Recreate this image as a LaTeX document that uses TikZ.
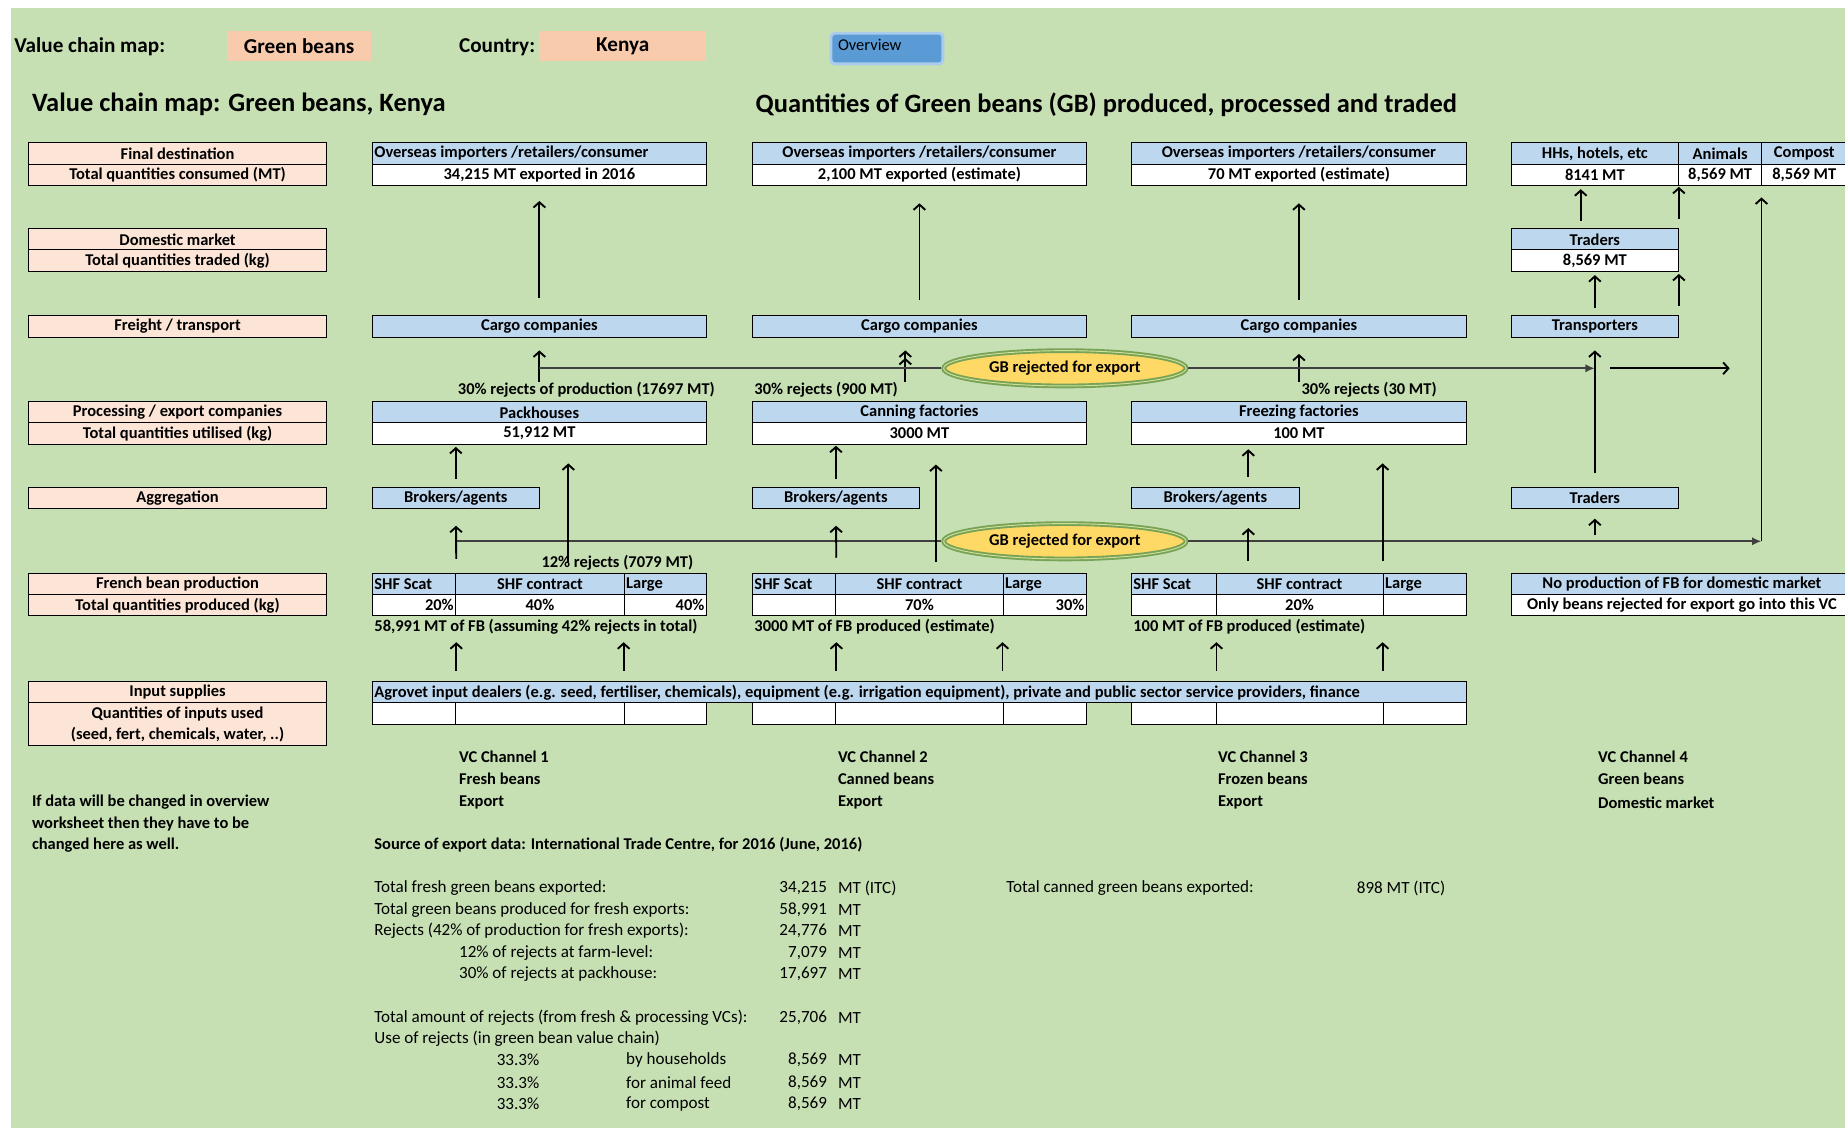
\documentclass[tikz,border=0pt]{standalone}
\usepackage{fontspec}
\setmainfont{Carlito}
\usetikzlibrary{shapes.geometric,arrows.meta,calc}
\definecolor{bggreen}{HTML}{C6E0B4}
\definecolor{peach}{HTML}{FCE4D6}
\definecolor{peachdk}{HTML}{F8CBAD}
\definecolor{cellblue}{HTML}{BDD7EE}
\definecolor{btnblue}{HTML}{5B9BD5}
\definecolor{btnrim}{HTML}{A9CCEC}
\definecolor{ellfill}{HTML}{FFD966}
\definecolor{ellrim}{HTML}{78A357}
\definecolor{ellin}{HTML}{CFE09A}
\definecolor{rejgray}{HTML}{404040}
\newcommand{\cellfont}{\fontsize{14}{16}\selectfont}
\newcommand{\plainfont}{\fontsize{14.5}{16}\selectfont}
\tikzset{
  box/.style={draw, line width=0.8pt, anchor=north west, minimum height=18pt, inner sep=0pt, font=\cellfont\bfseries},
  lab/.style={box, fill=peach, minimum width=253pt},
  bcell/.style={box, fill=cellblue},
  wcell/.style={box, fill=white},
  txt/.style={anchor=west, inner sep=0pt, font=\cellfont\bfseries},
  plain/.style={anchor=west, inner sep=0pt, font=\plainfont},
  num/.style={anchor=east, inner sep=0pt, font=\plainfont},
}

\begin{document}
\begin{tikzpicture}[
    x=1pt, y=-1pt,
    arr/.style={line width=1.6pt, -{Straight Barb[length=4.5pt,width=10pt]}},
    arrtwo/.style={line width=1.6pt, -{Straight Barb[length=4.5pt,width=10pt] Straight Barb[length=4.5pt,width=10pt]}},
    rej/.style={draw=rejgray, line width=1.7pt},
    rejend/.style={rej, -{Latex[length=8pt,width=7pt]}},
    ell/.style={ellipse, draw=ellrim, line width=4pt, fill=ellfill, minimum width=206pt, minimum height=30pt, inner sep=0pt, font=\cellfont\bfseries, postaction={draw=ellin, line width=0.8pt}},
    ]
    \useasboundingbox (0,0) rectangle (1568,959);
    \fill[white] (0,0) rectangle (1568,959);
    \fill[bggreen] (9,7) rectangle (1568,959);

    % header
    \node[anchor=west, inner sep=0pt, font=\fontsize{18}{20}\selectfont\bfseries] (hdr) at (12,40) {Value chain map:};
    \node[anchor=north west, fill=peachdk, minimum width=122pt, minimum height=26pt, inner sep=0pt, font=\fontsize{18}{20}\selectfont\bfseries] (hdrgb) at (193,26) {Green beans};
    \node[anchor=west, inner sep=0pt, font=\fontsize{18}{20}\selectfont\bfseries] (hdrcty) at (390,40) {Country:};
    \node[anchor=north west, fill=peachdk, minimum width=142pt, minimum height=26pt, inner sep=0pt, font=\fontsize{18}{20}\selectfont\bfseries] (hdrkenya) at (458,26) {Kenya};
    \node[anchor=north west, fill=btnblue, draw=btnrim, line width=2.5pt, rounded corners=3pt, minimum width=95pt, minimum height=26pt] (ovbtn) at (705,27) {};
    \node[anchor=west, inner sep=0pt, font=\fontsize{14}{16}\selectfont] (ovtxt) at (712,38) {Overview};
    \node[anchor=west, inner sep=0pt, font=\fontsize{22.5}{26}\selectfont\bfseries] (ttlmap) at (27,89) {Value chain map: Green beans, Kenya};
    \node[anchor=west, inner sep=0pt, font=\fontsize{22.5}{26}\selectfont\bfseries] (ttlqty) at (642,89) {Quantities of Green beans (GB) produced, processed and traded};

    % stage labels
    \node[lab] (lfd) at (24,121) {Final destination};
    \node[lab] (lfdq) at (24,139) {Total quantities consumed (MT)};
    \node[lab] (ldm) at (24,194) {Domestic market};
    \node[lab] (ldmq) at (24,212) {Total quantities traded (kg)};
    \node[lab] (lfr) at (24,268) {Freight / transport};
    \node[lab] (lpr) at (24,341) {Processing / export companies};
    \node[lab] (lprq) at (24,359) {Total quantities utilised (kg)};
    \node[lab] (lag) at (24,414) {Aggregation};
    \node[lab] (lfb) at (24,487) {French bean production};
    \node[lab] (lfbq) at (24,505) {Total quantities produced (kg)};
    \node[lab] (lin) at (24,579) {Input supplies};
    \node[lab, minimum height=36pt, align=center, font=\fontsize{14}{18}\selectfont\bfseries] (linq) at (24,597) {Quantities of inputs used\\(seed, fert, chemicals, water, ..)};

    % channel 1
    \node[bcell, minimum width=284pt] (imp1) at (316,121) {};
    \node[txt, xshift=2pt] (imp1t) at (imp1.west) {Overseas importers /retailers/consumer};
    \node[wcell, minimum width=284pt] (imp1q) at (316,139) {34,215 MT exported in 2016};
    \node[bcell, minimum width=284pt] (cargo1) at (316,268) {Cargo companies};
    \node[bcell, minimum width=284pt] (pack1) at (316,341) {Packhouses};
    \node[wcell, minimum width=284pt] (pack1q) at (316,359) {51,912 MT};
    \node[bcell, minimum width=142pt] (brok1) at (316,414) {Brokers/agents};
    \node[bcell, minimum width=71pt] (scat1) at (316,487) {};
    \node[bcell, minimum width=143pt] (cont1) at (387,487) {SHF contract};
    \node[bcell, minimum width=70pt] (large1) at (530,487) {};
    \node[wcell, minimum width=71pt] (scat1q) at (316,505) {};
    \node[wcell, minimum width=143pt] (cont1q) at (387,505) {40\%};
    \node[wcell, minimum width=70pt] (large1q) at (530,505) {};
    \node[txt, xshift=2pt] (scat1t) at (scat1.west) {SHF Scat};
    \node[txt, xshift=2pt] (large1t) at (large1.west) {Large};
    \node[txt, anchor=east, xshift=-2pt] (scat1v) at (scat1q.east) {20\%};
    \node[txt, anchor=east, xshift=-2pt] (large1v) at (large1q.east) {40\%};
    \node[wcell, minimum width=71pt] (in1a) at (316,597) {};
    \node[wcell, minimum width=143pt] (in1b) at (387,597) {};
    \node[wcell, minimum width=70pt] (in1c) at (530,597) {};

    % channel 2
    \node[bcell, minimum width=284pt] (imp2) at (639,121) {Overseas importers /retailers/consumer};
    \node[wcell, minimum width=284pt] (imp2q) at (639,139) {2,100 MT exported (estimate)};
    \node[bcell, minimum width=284pt] (cargo2) at (639,268) {Cargo companies};
    \node[bcell, minimum width=284pt] (can2) at (639,341) {Canning factories};
    \node[wcell, minimum width=284pt] (can2q) at (639,359) {3000 MT};
    \node[bcell, minimum width=142pt] (brok2) at (639,414) {Brokers/agents};
    \node[bcell, minimum width=71pt] (scat2) at (639,487) {};
    \node[bcell, minimum width=142pt] (cont2) at (710,487) {SHF contract};
    \node[bcell, minimum width=71pt] (large2) at (852,487) {};
    \node[wcell, minimum width=71pt] (scat2q) at (639,505) {};
    \node[wcell, minimum width=142pt] (cont2q) at (710,505) {70\%};
    \node[wcell, minimum width=71pt] (large2q) at (852,505) {};
    \node[txt, xshift=2pt] (scat2t) at (scat2.west) {SHF Scat};
    \node[txt, xshift=2pt] (large2t) at (large2.west) {Large};
    \node[txt, anchor=east, xshift=-2pt] (large2v) at (large2q.east) {30\%};
    \node[wcell, minimum width=71pt] (in2a) at (639,597) {};
    \node[wcell, minimum width=142pt] (in2b) at (710,597) {};
    \node[wcell, minimum width=71pt] (in2c) at (852,597) {};

    % channel 3
    \node[bcell, minimum width=285pt] (imp3) at (961,121) {Overseas importers /retailers/consumer};
    \node[wcell, minimum width=285pt] (imp3q) at (961,139) {70 MT exported (estimate)};
    \node[bcell, minimum width=285pt] (cargo3) at (961,268) {Cargo companies};
    \node[bcell, minimum width=285pt] (frz3) at (961,341) {Freezing factories};
    \node[wcell, minimum width=285pt] (frz3q) at (961,359) {100 MT};
    \node[bcell, minimum width=143pt] (brok3) at (961,414) {Brokers/agents};
    \node[bcell, minimum width=72pt] (scat3) at (961,487) {};
    \node[bcell, minimum width=142pt] (cont3) at (1033,487) {SHF contract};
    \node[bcell, minimum width=71pt] (large3) at (1175,487) {};
    \node[wcell, minimum width=72pt] (scat3q) at (961,505) {};
    \node[wcell, minimum width=142pt] (cont3q) at (1033,505) {20\%};
    \node[wcell, minimum width=71pt] (large3q) at (1175,505) {};
    \node[txt, xshift=2pt] (scat3t) at (scat3.west) {SHF Scat};
    \node[txt, xshift=2pt] (large3t) at (large3.west) {Large};
    \node[wcell, minimum width=72pt] (in3a) at (961,597) {};
    \node[wcell, minimum width=142pt] (in3b) at (1033,597) {};
    \node[wcell, minimum width=71pt] (in3c) at (1175,597) {};

    % input supplies row
    \node[bcell, minimum width=930pt] (agro) at (316,579) {};
    \node[txt, xshift=2pt] (agrot) at (agro.west) {Agrovet input dealers (e.g. seed, fertiliser, chemicals), equipment (e.g. irrigation equipment), private and public sector service providers, finance};

    % channel 4
    \node[bcell, minimum width=142pt] (hhs) at (1284,121) {HHs, hotels, etc};
    \node[bcell, minimum width=71pt] (anim) at (1426,121) {Animals};
    \node[bcell, minimum width=72pt] (comp) at (1497,121) {Compost};
    \node[wcell, minimum width=142pt] (hhsq) at (1284,139) {8141 MT};
    \node[wcell, minimum width=71pt] (animq) at (1426,139) {8,569 MT};
    \node[wcell, minimum width=72pt] (compq) at (1497,139) {8,569 MT};
    \node[bcell, minimum width=142pt] (trad4) at (1284,194) {Traders};
    \node[wcell, minimum width=142pt] (trad4q) at (1284,212) {8,569 MT};
    \node[bcell, minimum width=142pt] (trans4) at (1284,268) {Transporters};
    \node[bcell, minimum width=142pt] (trad4b) at (1284,414) {Traders};
    \node[bcell, minimum width=290pt] (noprod4) at (1284,487) {No production of FB for domestic market};
    \node[wcell, minimum width=290pt] (noprod4q) at (1284,505) {Only beans rejected for export go into this VC};

    % rejects
    \node[ell] (rej1) at (905,313) {GB rejected for export};
    \node[ell] (rej2) at (905,460) {GB rejected for export};
    \node[txt] (r30a) at (389,331) {30\% rejects of production (17697 MT)};
    \node[txt] (r30b) at (641,331) {30\% rejects (900 MT)};
    \node[txt] (r30c) at (1106,331) {30\% rejects (30 MT)};
    \node[txt] (r12) at (460,478) {12\% rejects (7079 MT)};
    \node[txt] (fb1) at (318,533) {58,991 MT of FB (assuming 42\% rejects in total)};
    \node[txt] (fb2) at (641,533) {3000 MT of FB produced (estimate)};
    \node[txt] (fb3) at (963,533) {100 MT of FB produced (estimate)};
    \coordinate (out4) at (1470,313);

    % flows up to export
    \draw[arr, shorten <=15pt, shorten >=13pt] (cargo1) -- (imp1q);
    \draw[arr, shorten <=16pt, shorten >=11pt] (pack1) -- (cargo1);
    \draw[arr, shorten <=13pt, shorten >=15pt] (cargo2) -- (imp2q);
    \draw[arrtwo, shorten <=16pt, shorten >=11pt] ([xshift=-12pt]can2.north) -- ([xshift=-12pt]cargo2.south);
    \draw[arr, shorten <=13pt, shorten >=15pt] (cargo3) -- (imp3q);
    \draw[arr, shorten <=16pt, shorten >=14pt] (frz3) -- (cargo3);

    % rejects lines
    \draw[rej] (pack1.north |- rej1) -- (rej1);
    \draw[rejend] (rej1) -- (trans4 |- rej1);
    \draw[arr] ($(trans4 |- rej1)+(13,0)$) -- (out4);
    \draw[rej] (scat1.north east |- rej2) -- (rej2);
    \draw[rejend] (rej2) -- (compq.south west |- rej2);
    \draw[arr, shorten >=10pt] (compq.south west |- rej2) -- (compq.south west);

    % channel 4 flows
    \draw[arr, shorten <=12pt, shorten >=11pt] (trad4b) -- (trans4);
    \draw[arr, shorten <=6pt, shorten >=3pt] (trans4) -- (trad4q);
    \draw[arr, shorten <=8pt, shorten >=2pt] (trans4.north east) -- (trad4q.south east);
    \draw[arr, shorten <=6pt, shorten >=3pt] ([xshift=-12pt]trad4.north) -- ([xshift=-12pt]hhsq.south);
    \draw[arr, shorten <=8pt, shorten >=1pt] (trad4.north east) -- (hhsq.south east);
    \draw[arr, shorten <=5pt, shorten >=8pt] (trad4b |- rej2) -- (trad4b);

    % production to aggregation / processing
    \draw[arr, shorten <=12pt, shorten >=14pt] (scat1.north east) -- (brok1);
    \draw[arr, shorten <=7pt, shorten >=2pt] (brok1) -- (brok1 |- pack1q.south);
    \draw[arr, shorten >=16pt] ($(r12.west)+(23,0)$) -- ($(r12.west |- pack1q.south)+(23,0)$);
    \draw[arr, shorten <=13pt, shorten >=14pt] (scat2.north east) -- (brok2);
    \draw[arr, shorten <=7pt, shorten >=1pt] (brok2) -- (brok2 |- can2q.south);
    \draw[arr, shorten <=9pt, shorten >=17pt] ($(cont2.north)+(14,0)$) -- ($(can2q.south)+(14,0)$);
    \draw[arr, shorten <=10pt, shorten >=16pt] ($(brok3.south |- cont3.north)+(28,0)$) -- ($(brok3.south)+(28,0)$);
    \draw[arr, shorten <=9pt, shorten >=4pt] ($(brok3.north)+(28,0)$) -- ($(brok3.north |- frz3q.south)+(28,0)$);
    \draw[arr, shorten <=10pt, shorten >=16pt] (large3.north west) -- (large3.north west |- frz3q.south);

    % inputs to production
    \draw[arr, shorten <=9pt, shorten >=22pt] (agro.north -| scat1q.east) -- (scat1q.south east);
    \draw[arr, shorten <=9pt, shorten >=22pt] (agro.north -| large1q.west) -- (large1q.south west);
    \draw[arr, shorten <=9pt, shorten >=22pt] (agro.north -| scat2q.east) -- (scat2q.south east);
    \draw[arr, shorten <=9pt, shorten >=22pt] (agro.north -| large2q.west) -- (large2q.south west);
    \draw[arr, shorten <=9pt, shorten >=22pt] (agro.north -| scat3q.east) -- (scat3q.south east);
    \draw[arr, shorten <=9pt, shorten >=22pt] (agro.north -| large3q.west) -- (large3q.south west);

    % channel names
    \node[txt] (vc1a) at (390,643) {VC Channel 1};
    \node[txt] (vc1b) at (390,662) {Fresh beans};
    \node[txt] (vc1c) at (390,682) {Export};
    \node[txt] (vc2a) at (712,643) {VC Channel 2};
    \node[txt] (vc2b) at (712,662) {Canned beans};
    \node[txt] (vc2c) at (712,682) {Export};
    \node[txt] (vc3a) at (1035,643) {VC Channel 3};
    \node[txt] (vc3b) at (1035,662) {Frozen beans};
    \node[txt] (vc3c) at (1035,682) {Export};
    \node[txt] (vc4a) at (1358,643) {VC Channel 4};
    \node[txt] (vc4b) at (1358,662) {Green beans};
    \node[txt] (vc4c) at (1358,682) {Domestic market};

    % notes
    \node[txt] (note1) at (27,682) {If data will be changed in overview};
    \node[txt] (note2) at (27,700) {worksheet then they have to be};
    \node[txt] (note3) at (27,718) {changed here as well.};
    \node[txt] (src) at (318,718) {Source of export data: International Trade Centre, for 2016 (June, 2016)};

    % figures
    \node[plain] (t1) at (318,755) {Total fresh green beans exported:};
    \node[num] (t1n) at (703,755) {34,215};
    \node[plain] (t1u) at (712,755) {MT (ITC)};
    \node[plain] (t2) at (318,773) {Total green beans produced for fresh exports:};
    \node[num] (t2n) at (703,773) {58,991};
    \node[plain] (t2u) at (712,773) {MT};
    \node[plain] (t3) at (318,791) {Rejects (42\% of production for fresh exports):};
    \node[num] (t3n) at (703,791) {24,776};
    \node[plain] (t3u) at (712,791) {MT};
    \node[plain] (t4) at (390,810) {12\% of rejects at farm-level:};
    \node[num] (t4n) at (703,810) {7,079};
    \node[plain] (t4u) at (712,810) {MT};
    \node[plain] (t5) at (390,828) {30\% of rejects at packhouse:};
    \node[num] (t5n) at (703,828) {17,697};
    \node[plain] (t5u) at (712,828) {MT};
    \node[plain] (t6) at (318,865) {Total amount of rejects (from fresh \& processing VCs):};
    \node[num] (t6n) at (703,865) {25,706};
    \node[plain] (t6u) at (712,865) {MT};
    \node[plain] (t7) at (318,883) {Use of rejects (in green bean value chain)};
    \node[plain] (t8p) at (422,901) {33.3\%};
    \node[plain] (t8) at (532,901) {by households};
    \node[num] (t8n) at (703,901) {8,569};
    \node[plain] (t8u) at (712,901) {MT};
    \node[plain] (t9p) at (422,920) {33.3\%};
    \node[plain] (t9) at (532,920) {for animal feed};
    \node[num] (t9n) at (703,920) {8,569};
    \node[plain] (t9u) at (712,920) {MT};
    \node[plain] (t10p) at (422,938) {33.3\%};
    \node[plain] (t10) at (532,938) {for compost};
    \node[num] (t10n) at (703,938) {8,569};
    \node[plain] (t10u) at (712,938) {MT};
    \node[plain] (c1) at (855,755) {Total canned green beans exported:};
    \node[plain] (c1n) at (1153,755) {898 MT (ITC)};
  \end{tikzpicture}
\end{document}
